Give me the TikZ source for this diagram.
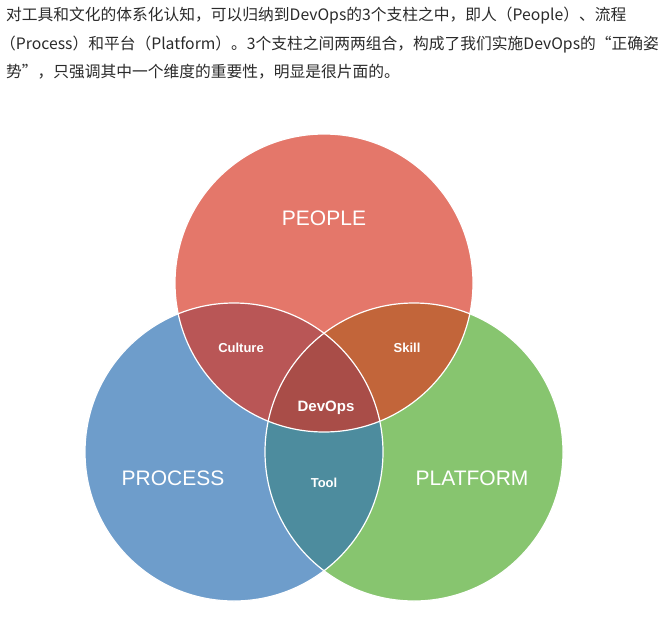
\documentclass[tikz,border=0pt]{standalone}
\usepackage{fontspec}
\setmainfont{Liberation Sans}
\newfontfamily\cjk{Noto Sans CJK SC}
\definecolor{peoplec}{HTML}{E4776A}
\definecolor{processc}{HTML}{6E9DCB}
\definecolor{platformc}{HTML}{87C56F}
\definecolor{culturec}{HTML}{B95656}
\definecolor{skillc}{HTML}{C2653A}
\definecolor{devopsc}{HTML}{A94D48}
\definecolor{toolc}{HTML}{4D8C9E}
\definecolor{txt}{HTML}{2A2A2A}
\tikzset{
  para/.style={anchor=base west, inner sep=0pt, text=txt, font=\cjk\fontsize{15.75}{18}\selectfont},
  biglabel/.style={text=white, inner sep=0pt, font=\fontsize{21}{24}\selectfont},
  smalllabel/.style={text=white, inner sep=0pt, font=\bfseries\fontsize{13}{15}\selectfont},
  ring/.style={draw=white, line width=1.2pt}
}
\begin{document}
\begin{tikzpicture}[x=1pt,y=-1pt]
\useasboundingbox (0,0) rectangle (668,623);
\node[para] (l1) at (6,21) {对工具和文化的体系化认知，可以归纳到DevOps的3个支柱之中，即人（People）、流程};
\node[para] (l2) at (0,49.5) {（Process）和平台（Platform）。3个支柱之间两两组合，构成了我们实施DevOps的“正确姿};
\node[para] (l3) at (6,78) {势”，只强调其中一个维度的重要性，明显是很片面的。};

\coordinate (pe) at (324,283);
\coordinate (pr) at (234,452);
\coordinate (pl) at (414,452);
\def\R{149pt}
\fill[peoplec] (pe) circle[radius=\R];
\fill[processc] (pr) circle[radius=\R];
\fill[platformc] (pl) circle[radius=\R];
\begin{scope}
  \clip (pe) circle[radius=\R];
  \fill[culturec] (pr) circle[radius=\R];
  \fill[skillc] (pl) circle[radius=\R];
\end{scope}
\begin{scope}
  \clip (pr) circle[radius=\R];
  \fill[toolc] (pl) circle[radius=\R];
\end{scope}
\begin{scope}
  \clip (pe) circle[radius=\R];
  \clip (pr) circle[radius=\R];
  \fill[devopsc] (pl) circle[radius=\R];
\end{scope}
\draw[ring] (pe) circle[radius=\R];
\draw[ring] (pr) circle[radius=\R];
\draw[ring] (pl) circle[radius=\R];

\node[biglabel] (people) at (324,218) {PEOPLE};
\node[biglabel] (process) at (173,478) {PROCESS};
\node[biglabel] (platform) at (472,478) {PLATFORM};
\node[smalllabel] (culture) at (241,348) {Culture};
\node[smalllabel] (skill) at (407,348) {Skill};
\node[smalllabel, font=\bfseries\fontsize{15}{17}\selectfont] (devops) at (326,408) {DevOps};
\node[smalllabel] (tool) at (324,483) {Tool};
\end{tikzpicture}
\end{document}
